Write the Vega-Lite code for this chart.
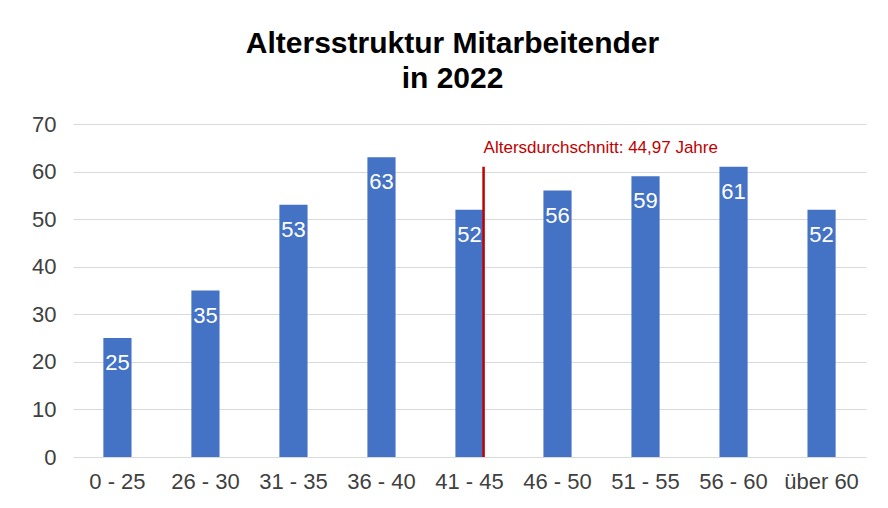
{
  "$schema": "https://vega.github.io/schema/vega-lite/v6.json",
  "width": 793,
  "height": 333,
  "autosize": "none",
  "padding": {"left": 73, "top": 124, "right": 22, "bottom": 51},
  "background": "white",
  "config": {"view": {"stroke": null}, "font": "Liberation Sans"},
  "title": {
    "text": ["Altersstruktur Mitarbeitender", "in 2022"],
    "fontSize": 30,
    "font": "Liberation Sans",
    "fontWeight": "bold",
    "color": "#000000",
    "lineHeight": 35,
    "anchor": "middle",
    "dx": -17,
    "offset": 19
  },
  "data": {
    "values": [
      {"Altersgruppe": "0 - 25", "Anzahl": 25},
      {"Altersgruppe": "26 - 30", "Anzahl": 35},
      {"Altersgruppe": "31 - 35", "Anzahl": 53},
      {"Altersgruppe": "36 - 40", "Anzahl": 63},
      {"Altersgruppe": "41 - 45", "Anzahl": 52},
      {"Altersgruppe": "46 - 50", "Anzahl": 56},
      {"Altersgruppe": "51 - 55", "Anzahl": 59},
      {"Altersgruppe": "56 - 60", "Anzahl": 61},
      {"Altersgruppe": "über 60", "Anzahl": 52}
    ]
  },
  "layer": [
    {
      "mark": {"type": "bar", "color": "#4472C4"},
      "encoding": {
        "x": {
          "field": "Altersgruppe",
          "type": "nominal",
          "sort": null,
          "scale": {"paddingInner": 0.68, "paddingOuter": 0.345},
          "axis": {
            "title": null,
            "domain": false,
            "ticks": false,
            "labelAngle": 0,
            "labelFontSize": 22,
            "labelColor": "#404040",
            "labelPadding": 14
          }
        },
        "y": {
          "field": "Anzahl",
          "type": "quantitative",
          "scale": {"domain": [0, 70]},
          "axis": {
            "title": null,
            "domain": false,
            "ticks": false,
            "values": [0, 10, 20, 30, 40, 50, 60, 70],
            "gridColor": "#d9d9d9",
            "gridWidth": 1,
            "labelFontSize": 22,
            "labelColor": "#404040",
            "labelPadding": 17
          }
        }
      }
    },
    {
      "mark": {"type": "text", "color": "white", "fontSize": 22, "baseline": "middle", "dy": 25},
      "encoding": {
        "x": {"field": "Altersgruppe", "type": "nominal", "sort": null},
        "y": {"field": "Anzahl", "type": "quantitative"},
        "text": {"field": "Anzahl", "type": "quantitative"}
      }
    },
    {
      "data": {"values": [{"Altersgruppe": "41 - 45", "Beschriftung": "Altersdurchschnitt: 44,97 Jahre"}]},
      "mark": {"type": "rule", "color": "#C00000", "strokeWidth": 2.5},
      "encoding": {
        "x": {"field": "Altersgruppe", "type": "nominal", "sort": null, "bandPosition": 1},
        "y": {"datum": 0},
        "y2": {"datum": 61}
      }
    },
    {
      "data": {"values": [{"Altersgruppe": "41 - 45", "Beschriftung": "Altersdurchschnitt: 44,97 Jahre"}]},
      "mark": {"type": "text", "color": "#C00000", "fontSize": 17, "align": "left", "baseline": "alphabetic"},
      "encoding": {
        "x": {"field": "Altersgruppe", "type": "nominal", "sort": null, "bandPosition": 1},
        "y": {"datum": 64},
        "text": {"field": "Beschriftung", "type": "nominal"}
      }
    }
  ]
}
